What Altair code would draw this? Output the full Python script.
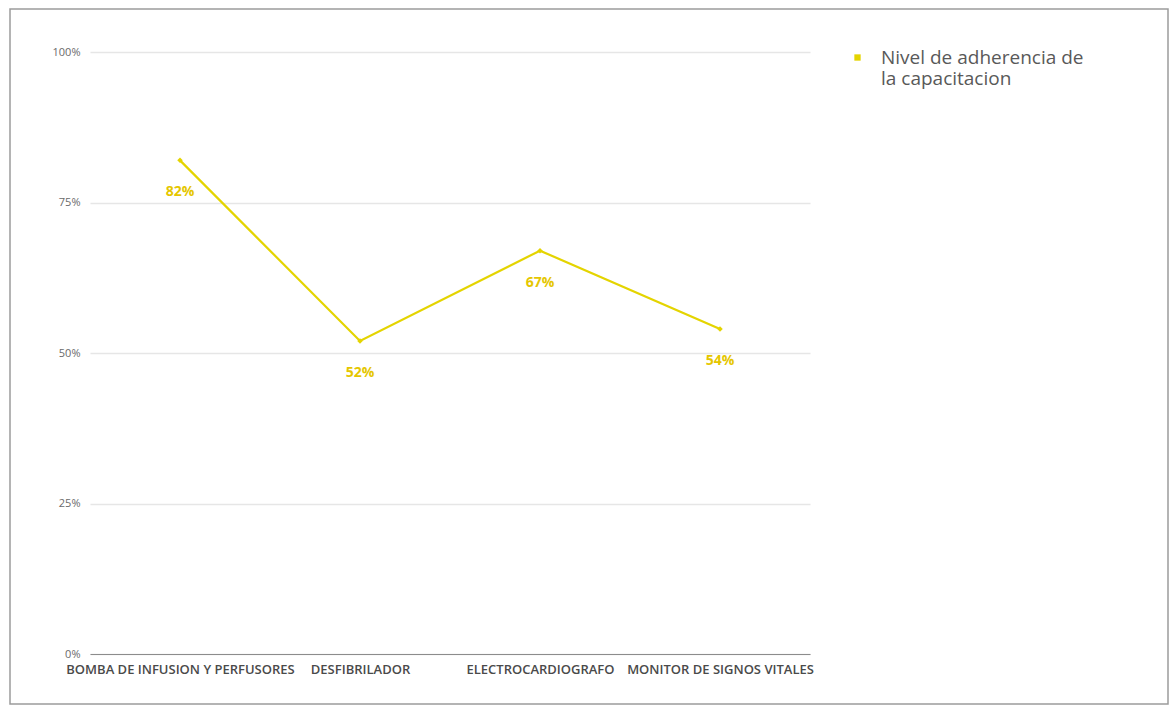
import altair as alt
import pandas as pd

# Equipos evaluados y nivel de adherencia obtenido
categorias = [
    "BOMBA DE INFUSION Y PERFUSORES",
    "DESFIBRILADOR",
    "ELECTROCARDIOGRAFO",
    "MONITOR DE SIGNOS VITALES",
]
valores = [0.82, 0.52, 0.67, 0.54]
serie = "Nivel de adherencia de\nla capacitacion"

AMARILLO = "#E4D400"
ETIQUETA = "#E5C600"

df = pd.DataFrame({"equipo": categorias, "valor": valores, "serie": serie})

x = alt.X(
    "equipo:N",
    sort=categorias,
    title=None,
    axis=alt.Axis(
        labelAngle=0,
        labelFont="Open Sans",
        labelFontSize=13,
        labelFontWeight=600,
        labelColor="#4a4a4a",
        labelPadding=9,
        ticks=False,
        domainColor="#8c8c8c",
        domainWidth=1.2,
        grid=False,
        labelLimit=400,
    ),
)
y = alt.Y(
    "valor:Q",
    title=None,
    scale=alt.Scale(domain=[0, 1], nice=False),
    axis=alt.Axis(
        values=[0, 0.25, 0.5, 0.75, 1.0],
        format=".0%",
        labelFont="Open Sans",
        labelFontSize=11,
        labelColor="#6a6a6a",
        labelPadding=10,
        ticks=False,
        domain=False,
        grid=True,
        gridColor="#e6e6e6",
        gridWidth=1.5,
    ),
)

base = alt.Chart(df)

linea = base.mark_line(color=AMARILLO, strokeWidth=2.2).encode(x=x, y=y)

puntos = base.mark_point(shape="diamond", filled=True, size=30, opacity=1).encode(
    x=x,
    y=y,
    color=alt.Color(
        "serie:N",
        scale=alt.Scale(range=[AMARILLO]),
        legend=alt.Legend(
            title=None,
            orient="none",
            legendX=758,
            legendY=-4,
            symbolType="square",
            symbolSize=40,
            labelFont="Open Sans",
            labelFontSize=19,
            labelColor="#595959",
            labelOffset=14,
            labelLimit=320,
            labelExpr="split(datum.label, '\\n')",
        ),
    ),
)

etiquetas = base.mark_text(
    dy=32, font="Open Sans", fontSize=14, fontWeight="bold", color=ETIQUETA
).encode(x=x, y=y, text=alt.Text("valor:Q", format=".0%"))

marco = alt.Chart(alt.Data(values=[{"k": 1}])).mark_rect(
    fill="transparent", stroke="#9c9c9c", strokeWidth=1.5
).encode(
    x=alt.value(-80), x2=alt.value(1078), y=alt.value(-43), y2=alt.value(652)
)

chart = (
    alt.layer(marco, linea, puntos, etiquetas)
    .properties(
        width=720,
        height=602,
        autosize=alt.AutoSizeParams(type="none"),
        padding={"left": 90, "top": 52, "right": 361, "bottom": 53},
        background="white",
    )
    .configure_view(stroke=None)
)

chart.save("out.html", embed_options={"renderer": "svg", "actions": False})
